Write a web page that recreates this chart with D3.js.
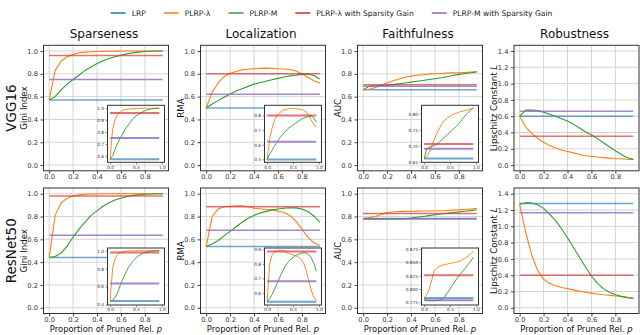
<!DOCTYPE html>
<html><head><meta charset="utf-8">
<script src="https://cdn.jsdelivr.net/npm/d3@7"></script>
<style>body{margin:0;background:#fff}svg{display:block;font-family:"DejaVu Sans",sans-serif}</style>
</head><body><svg id="c" width="640" height="335"></svg>
<script>
// ---------------- data ----------------
const pGrid = [0,0.05,0.1,0.15,0.2,0.25,0.3,0.35,0.4,0.45,0.5,0.55,0.6,0.65,0.7,0.75,0.8,0.85,0.9,0.95];
const seriesNames = ["LRP","PLRP-λ","PLRP-M","PLRP-λ with Sparsity Gain","PLRP-M with Sparsity Gain"];
const seriesColors = ["#1f77b4","#ff7f0e","#2ca02c","#d62728","#9467bd"];
const metrics = ["Sparseness","Localization","Faithfulness","Robustness"];
const models = ["VGG16","ResNet50"];
const yLabels = ["Gini Index","RMA","AUC","Lipschitz Constant "];
const xTicks = [0,0.2,0.4,0.6,0.8];
const yTicksUnit = [0,0.2,0.4,0.6,0.8,1.0];
const yTicksRob = [0,0.2,0.4,0.6,0.8,1.0,1.2,1.4];

// horizontal references: [LRP, PLRP-λ with SG, PLRP-M with SG]
const vggSparseRefs = [0.57,0.96,0.75];
const vggSparseLambda = [0.57,0.83,0.91,0.95,0.97,0.985,0.99,0.993,0.995,0.997,0.998,0.999,1,1,1,1,1,1,1,1];
const vggSparseM = [0.57,0.6,0.66,0.71,0.75,0.79,0.83,0.86,0.89,0.915,0.935,0.95,0.963,0.975,0.984,0.99,0.995,0.998,1,1];

const vggLocRefs = [0.5,0.8,0.62];
const vggLocLambda = [0.5,0.64,0.72,0.775,0.805,0.82,0.835,0.84,0.845,0.848,0.85,0.848,0.845,0.842,0.838,0.825,0.8,0.77,0.74,0.72];
const vggLocM = [0.5,0.535,0.565,0.595,0.623,0.65,0.67,0.69,0.71,0.722,0.735,0.748,0.76,0.772,0.782,0.787,0.795,0.798,0.785,0.755];

const vggFaithRefs = [0.66,0.705,0.69];
const vggFaithLambda = [0.66,0.665,0.68,0.7,0.72,0.74,0.755,0.77,0.78,0.787,0.792,0.797,0.8,0.803,0.806,0.808,0.81,0.812,0.815,0.818];
const vggFaithM = [0.66,0.69,0.695,0.698,0.7,0.705,0.712,0.72,0.727,0.735,0.742,0.75,0.757,0.765,0.775,0.785,0.795,0.803,0.81,0.817];

const vggRobRefs = [0.6,0.355,0.66];
const vggRobLambda = [0.6,0.47,0.39,0.33,0.28,0.24,0.21,0.185,0.167,0.15,0.13,0.115,0.107,0.1,0.092,0.085,0.08,0.077,0.072,0.07];
const vggRobM = [0.6,0.675,0.675,0.67,0.65,0.625,0.6,0.57,0.54,0.5,0.455,0.41,0.37,0.325,0.275,0.225,0.175,0.13,0.09,0.07];

const resSparseRefs = [0.44,0.98,0.635];
const resSparseLambda = [0.44,0.81,0.92,0.96,0.98,0.99,0.995,0.997,0.998,0.999,1,1,1,1,1,1,1,1,1,1];
const resSparseM = [0.44,0.45,0.48,0.54,0.62,0.69,0.75,0.81,0.85,0.89,0.92,0.945,0.96,0.975,0.985,0.99,0.995,0.998,1,1];

const resLocRefs = [0.537,0.885,0.68];
const resLocLambda = [0.537,0.8,0.865,0.885,0.89,0.893,0.893,0.885,0.873,0.868,0.862,0.856,0.848,0.835,0.81,0.76,0.69,0.62,0.57,0.545];
const resLocM = [0.537,0.56,0.59,0.63,0.67,0.71,0.75,0.785,0.81,0.83,0.845,0.858,0.866,0.872,0.877,0.876,0.866,0.845,0.805,0.75];

const resFaithRefs = [0.783,0.826,0.779];
const resFaithLambda = [0.782,0.79,0.8,0.818,0.835,0.84,0.843,0.845,0.846,0.847,0.848,0.849,0.85,0.851,0.853,0.856,0.858,0.862,0.866,0.87];
const resFaithM = [0.782,0.779,0.778,0.778,0.778,0.779,0.779,0.781,0.786,0.793,0.8,0.808,0.815,0.822,0.828,0.834,0.84,0.846,0.852,0.86];

const resRobRefs = [1.28,0.4,1.165];
const resRobLambda = [1.27,0.93,0.65,0.46,0.35,0.3,0.27,0.25,0.235,0.22,0.205,0.19,0.18,0.17,0.16,0.155,0.145,0.138,0.128,0.12];
const resRobM = [1.27,1.29,1.285,1.265,1.22,1.15,1.07,0.97,0.86,0.74,0.62,0.5,0.39,0.3,0.235,0.19,0.16,0.14,0.125,0.115];

// inset y tick values and y ranges
const insetTicks = [
  [[0.6,0.7,0.8,0.9,1.0],[0.5,0.6,0.7,0.8],[0.65,0.70,0.75,0.80],null],
  [[0.4,0.6,0.8,1.0],[0.6,0.7,0.8,0.9],[0.775,0.800,0.825,0.850,0.875],null]
];
const insetDomains = [
  [[0.545,1.025],[0.48,0.87],[0.648,0.826],null],
  [[0.395,1.03],[0.515,0.91],[0.77,0.877],null]
];
const insetFormats = [[".1f",".1f",".2f",null],[".1f",".1f",".3f",null]];
const insetXTicks = [0,0.5,1.0];

const panelData = [
  [[vggSparseRefs,vggSparseLambda,vggSparseM],[vggLocRefs,vggLocLambda,vggLocM],[vggFaithRefs,vggFaithLambda,vggFaithM],[vggRobRefs,vggRobLambda,vggRobM]],
  [[resSparseRefs,resSparseLambda,resSparseM],[resLocRefs,resLocLambda,resLocM],[resFaithRefs,resFaithLambda,resFaithM],[resRobRefs,resRobLambda,resRobM]]
];

// ---------------- layout ----------------
const svg = d3.select("#c");
const colLeft = [43.5,200.5,357.5,514];
const rowTop = [45.3,188];
const W = 125, H = 125.5;
const gridColor = "#d4d4d4", frameColor = "#333";

// legend
const leg = svg.append("g");
let lx = 0;
const legGap = 18;
seriesNames.forEach((n,i)=>{
  const g = leg.append("g").attr("transform",`translate(${lx},0)`);
  g.append("line").attr("x1",0).attr("x2",15).attr("y1",0).attr("y2",0).attr("stroke",seriesColors[i]).attr("stroke-width",1.5);
  const t = g.append("text").attr("x",21).attr("y",0).attr("dy","0.35em").attr("font-size",7.6).attr("fill","#222").text(n);
  lx += 21 + t.node().getComputedTextLength() + legGap;
});
lx -= legGap;
leg.attr("transform",`translate(${331.5 - lx/2},13)`);

metrics.forEach((m,c)=>{
  svg.append("text").attr("x",colLeft[c]+W/2-2).attr("y",37.5).attr("text-anchor","middle").attr("font-size",12).attr("fill","#111").text(m);
});
models.forEach((m,r)=>{
  svg.append("text").attr("transform",`translate(11.5,${rowTop[r]+H/2}) rotate(-90)`).attr("text-anchor","middle").attr("dy","0.35em").attr("font-size",13.5).attr("fill","#111").text(m);
});

const fmt1 = d3.format(".1f");
for(let r=0;r<2;r++){
  for(let c=0;c<4;c++){
    const [refs,lam,mm] = panelData[r][c];
    const g = svg.append("g").attr("transform",`translate(${colLeft[c]},${rowTop[r]})`);
    const x = d3.scaleLinear().domain([-0.0475,0.9975]).range([0,W]);
    const y = c===3 ? d3.scaleLinear().domain([-0.07,1.47]).range([H,0]) : d3.scaleLinear().domain([-0.05,1.05]).range([H,0]);
    const yt = c===3 ? yTicksRob : yTicksUnit;
    // grid
    g.append("g").selectAll("line").data(yt).join("line")
      .attr("x1",0).attr("x2",W).attr("y1",d=>y(d)).attr("y2",d=>y(d)).attr("stroke",gridColor).attr("stroke-width",1);
    g.append("g").selectAll("line").data(xTicks).join("line")
      .attr("y1",0).attr("y2",H).attr("x1",d=>x(d)).attr("x2",d=>x(d)).attr("stroke",gridColor).attr("stroke-width",1);
    drawSeries(g,x,y,refs,lam,mm,1.5,1.1);
    // axes
    const ya = g.append("g").call(d3.axisLeft(y).tickValues(yt).tickFormat(fmt1).tickSize(3).tickPadding(2.5));
    const xa = g.append("g").attr("transform",`translate(0,${H})`).call(d3.axisBottom(x).tickValues(xTicks).tickFormat(fmt1).tickSize(3).tickPadding(0.8));
    [ya,xa].forEach(a=>{a.select(".domain").remove();a.selectAll("line").attr("stroke","#444");a.selectAll("text").attr("font-size",6.7).attr("fill","#333").attr("font-family","DejaVu Sans");});
    g.append("rect").attr("width",W).attr("height",H).attr("fill","none").attr("stroke",frameColor).attr("stroke-width",1);
    // y label
    const yl = g.append("text").attr("transform",`translate(-20,${H/2}) rotate(-90)`).attr("text-anchor","middle").attr("dy","0.35em").attr("font-size",8.6).attr("fill","#111").text(yLabels[c]);
    if(c===3) yl.append("tspan").attr("font-style","italic").text("L");
    if(r===1){
      const xl = g.append("text").attr("x",W/2).attr("y",332.4-rowTop[r]).attr("text-anchor","middle").attr("font-size",8.4).attr("fill","#111").text("Proportion of Pruned Rel. ");
      xl.append("tspan").attr("font-style","italic").text("p");
    }
    // inset
    if(insetTicks[r][c]){
      const iw = 57, ih = 57, ix = 64, iy = 60;
      const ig = g.append("g").attr("transform",`translate(${ix},${iy})`);
      ig.append("rect").attr("width",iw).attr("height",ih).attr("fill","#fff");
      const x2 = d3.scaleLinear().domain([-0.05,1.05]).range([0,iw]);
      const y2 = d3.scaleLinear().domain(insetDomains[r][c]).range([ih,0]);
      drawSeries(ig,x2,y2,refs,lam,mm,2,0.9);
      const f = d3.format(insetFormats[r][c]);
      const a1 = ig.append("g").call(d3.axisLeft(y2).tickValues(insetTicks[r][c]).tickFormat(f).tickSize(2).tickPadding(1.5));
      const a2 = ig.append("g").attr("transform",`translate(0,${ih})`).call(d3.axisBottom(x2).tickValues(insetXTicks).tickFormat(fmt1).tickSize(2).tickPadding(1.2));
      [a1,a2].forEach(a=>{a.select(".domain").remove();a.selectAll("line").attr("stroke","#444").attr("stroke-width",0.6);a.selectAll("text").attr("font-size",4.3).attr("fill","#333").attr("font-family","DejaVu Sans");});
      ig.append("rect").attr("width",iw).attr("height",ih).attr("fill","none").attr("stroke",frameColor).attr("stroke-width",1);
    }
  }
}

function drawSeries(g,x,y,refs,lam,mm,hw,cw){
  const xs = [pGrid[0],pGrid[pGrid.length-1]];
  const line = d3.line().x(d=>x(d[0])).y(d=>y(d[1]));
  const hl = (v,col,op)=>g.append("path").attr("d",line(xs.map(p=>[p,v]))).attr("fill","none").attr("stroke",col).attr("stroke-width",hw).attr("stroke-opacity",op);
  hl(refs[0],seriesColors[0],0.65);
  g.append("path").attr("d",line(pGrid.map((p,i)=>[p,lam[i]]))).attr("fill","none").attr("stroke",seriesColors[1]).attr("stroke-width",cw).attr("stroke-linejoin","round");
  g.append("path").attr("d",line(pGrid.map((p,i)=>[p,mm[i]]))).attr("fill","none").attr("stroke",seriesColors[2]).attr("stroke-width",cw).attr("stroke-linejoin","round");
  hl(refs[1],seriesColors[3],0.65);
  hl(refs[2],seriesColors[4],0.8);
}
</script></body></html>
